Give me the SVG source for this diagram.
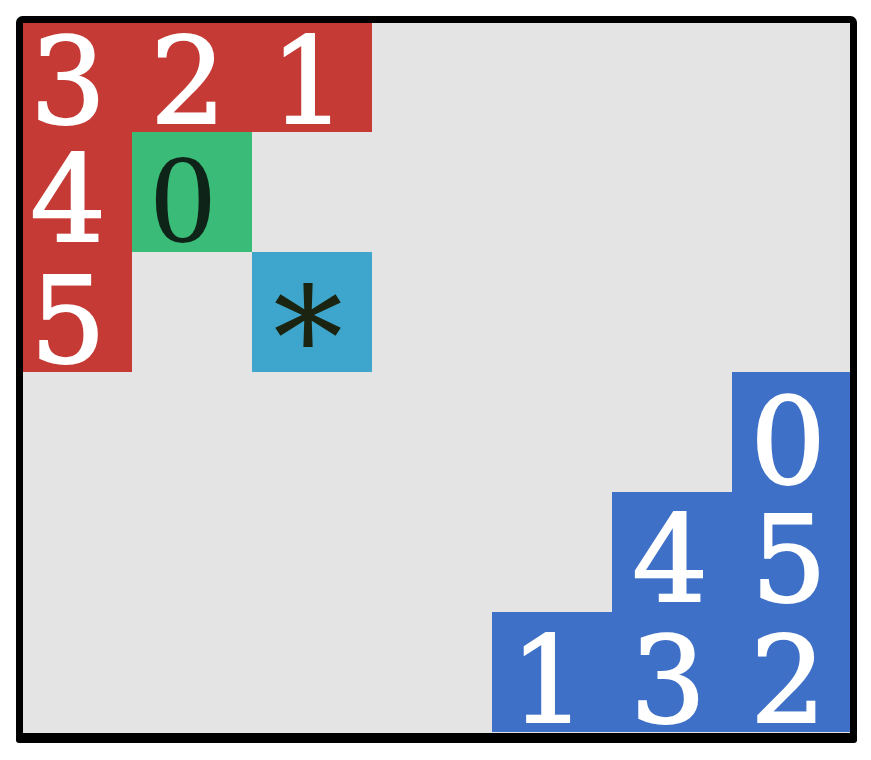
<svg xmlns="http://www.w3.org/2000/svg" width="871" height="760" viewBox="0 0 871 760">
<style>
.cell{stroke:none}
.red{fill:#c63a35}
.green{fill:#3bbb78}
.cyan{fill:#3ea6cc}
.blue{fill:#3d70c6}
.t{font-family:"DejaVu Serif","Liberation Serif",serif;font-size:119px;text-anchor:middle;fill:#ffffff;stroke:#ffffff;stroke-width:2}
.zero{font-family:"Liberation Serif","DejaVu Serif",serif;font-size:128px;text-anchor:middle;fill:#0f2418}
.ast{font-family:"DejaVu Serif","Liberation Serif",serif;font-size:140px;text-anchor:middle;fill:#1a2410}
</style>
<rect x="0" y="0" width="871" height="760" fill="#ffffff"/>
<rect x="19" y="19" width="835" height="718" fill="#e4e4e4"/>
<g id="red-group">
<g id="r3"><rect class="cell red" x="12" y="12" width="120" height="120"/><text class="t" x="68" y="123">3</text></g>
<g id="r2"><rect class="cell red" x="132" y="12" width="120" height="120"/><text class="t" x="188" y="123">2</text></g>
<g id="r1"><rect class="cell red" x="252" y="12" width="120" height="120"/><text class="t" x="308" y="123">1</text></g>
<g id="r4"><rect class="cell red" x="12" y="132" width="120" height="120"/><text class="t" x="68" y="241">4</text></g>
<g id="r5"><rect class="cell red" x="12" y="252" width="120" height="120"/><text class="t" x="68" y="362">5</text></g>
</g>
<g id="g0"><rect class="cell green" x="132" y="132" width="120" height="120"/><text class="zero" x="183" y="242">0</text></g>
<g id="star"><rect class="cell cyan" x="252" y="252" width="120" height="120"/><text class="ast" x="308" y="387">*</text></g>
<g id="blue-group">
<g id="b0"><rect class="cell blue" x="732" y="372" width="120" height="120"/><text class="t" x="788" y="483">0</text></g>
<g id="b4"><rect class="cell blue" x="612" y="492" width="120" height="120"/><text class="t" x="670" y="601">4</text></g>
<g id="b5"><rect class="cell blue" x="732" y="492" width="120" height="120"/><text class="t" x="789" y="601">5</text></g>
<g id="b1"><rect class="cell blue" x="492" y="612" width="120" height="120"/><text class="t" x="548" y="722">1</text></g>
<g id="b3"><rect class="cell blue" x="612" y="612" width="120" height="120"/><text class="t" x="668" y="722">3</text></g>
<g id="b2"><rect class="cell blue" x="732" y="612" width="120" height="120"/><text class="t" x="788" y="722">2</text></g>
</g>
<g id="frame">
<rect x="0" y="0" width="871" height="19.5" fill="#ffffff"/>
<rect x="0" y="0" width="19.5" height="760" fill="#ffffff"/>
<rect x="853.5" y="0" width="17.5" height="760" fill="#ffffff"/>
<rect x="0" y="740" width="871" height="20" fill="#ffffff"/>
<rect x="19.5" y="19.5" width="834" height="717" rx="3" fill="none" stroke="#000" stroke-width="7"/>
<rect x="16" y="733" width="841" height="10" rx="3" fill="#000"/>
</g>
<g id="connectors"></g>
</svg>
